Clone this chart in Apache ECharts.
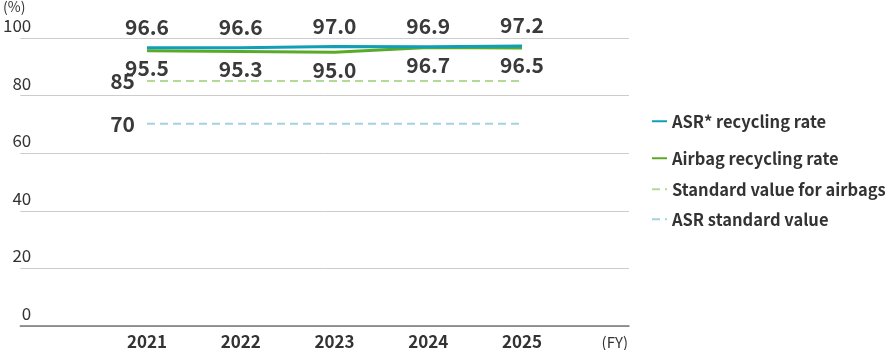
<!DOCTYPE html>
<html><head><meta charset="utf-8">
<script src="https://cdn.jsdelivr.net/npm/echarts@6/dist/echarts.min.js"></script>
<style>html,body{margin:0;padding:0;background:#fff}#c{width:887px;height:350px}</style>
</head><body><div id="c"></div>
<script>
const years = ['2021', '2022', '2023', '2024', '2025'];
const asrRate = [96.6, 96.6, 97.0, 96.9, 97.2];
const airbagRate = [95.5, 95.3, 95.0, 96.7, 96.5];
const airbagStandard = [85, 85, 85, 85, 85];
const asrStandard = [70, 70, 70, 70, 70];
const yTicks = [0, 20, 40, 60, 80, 100];

const FONT = '"Noto Sans CJK JP", "Noto Sans", sans-serif';
const chart = echarts.init(document.getElementById('c'), null, {renderer: 'canvas'});

function firstOnlyLabel(arr) {
  return arr.map((v, i) => i === 0 ? v : {value: v, label: {show: false}});
}

const legendBase = {
  orient: 'vertical', left: 646, itemWidth: 15, itemHeight: 10, itemGap: 0,
  itemStyle: {opacity: 0},
  textStyle: {fontFamily: FONT, fontSize: 16.5, color: '#333', fontWeight: 'bold'}
};

const valLabel = {fontFamily: FONT, fontSize: 21, color: '#3a3a3a', fontWeight: 'bold'};

chart.setOption({
  animation: false,
  grid: [
    {left: 3, right: 258, top: 38, bottom: 24},
    {left: 147, right: 365, top: 38, bottom: 24}
  ],
  graphic: [
    {type: 'text', left: 3, top: 0,
     style: {text: '(%)', fontFamily: FONT, fontSize: 14, fill: '#333'}}
  ],
  legend: [
    Object.assign({}, legendBase, {top: 108, data: ['ASR* recycling rate']}),
    Object.assign({}, legendBase, {top: 145, data: ['Airbag recycling rate']}),
    Object.assign({}, legendBase, {top: 176, data: ['Standard value for airbags']}),
    Object.assign({}, legendBase, {top: 206, data: ['ASR standard value']})
  ],
  xAxis: [
    {gridIndex: 0, type: 'value', min: 0, max: 1,
     axisLine: {show: true, lineStyle: {color: '#777', width: 1.5}},
     axisTick: {show: false}, axisLabel: {show: false}, splitLine: {show: false},
     name: '(FY)', nameLocation: 'end', nameGap: -1, nameMoveOverlap: false,
     nameTextStyle: {fontFamily: FONT, fontSize: 15, color: '#333', align: 'right', verticalAlign: 'top', padding: [9, 0, 0, 0]}},
    {gridIndex: 1, type: 'category', boundaryGap: false, data: years,
     axisLine: {show: false}, axisTick: {show: false},
     axisLabel: {fontFamily: FONT, fontSize: 17, fontWeight: 'bold', color: '#333', margin: 9}}
  ],
  yAxis: [
    {gridIndex: 0, type: 'value', min: 0, max: 100, interval: 20,
     axisLine: {show: false}, axisTick: {show: false},
     splitLine: {lineStyle: {color: '#ccc', width: 1}},
     axisLabel: {inside: true, margin: 14, align: 'right', verticalAlign: 'bottom',
       padding: [0, 3, 4, 0], fontFamily: FONT, fontSize: 17, color: '#333',
       formatter: v => yTicks.includes(v) ? String(v) : ''}},
    {gridIndex: 1, type: 'value', min: 0, max: 100, show: false,
     splitLine: {show: false}}
  ],
  series: [
    {name: 'ASR standard value', type: 'line', xAxisIndex: 1, yAxisIndex: 1,
     data: firstOnlyLabel(asrStandard), symbol: 'circle', symbolSize: 0, z: 2,
     lineStyle: {color: '#a3d3de', width: 2, type: [8, 5]}, itemStyle: {color: '#a3d3de'},
     label: Object.assign({show: true, position: 'left', distance: 12}, valLabel)},
    {name: 'Standard value for airbags', type: 'line', xAxisIndex: 1, yAxisIndex: 1,
     data: firstOnlyLabel(airbagStandard), symbol: 'circle', symbolSize: 0, z: 2,
     lineStyle: {color: '#b3d996', width: 2, type: [8, 5]}, itemStyle: {color: '#b3d996'},
     label: Object.assign({show: true, position: 'left', distance: 12}, valLabel)},
    {name: 'Airbag recycling rate', type: 'line', xAxisIndex: 1, yAxisIndex: 1,
     data: airbagRate, symbol: 'circle', symbolSize: 0, z: 3,
     lineStyle: {color: '#5aaa28', width: 3}, itemStyle: {color: '#5aaa28'},
     label: Object.assign({show: true, position: 'bottom', distance: 7,
       formatter: p => p.value.toFixed(1)}, valLabel)},
    {name: 'ASR* recycling rate', type: 'line', xAxisIndex: 1, yAxisIndex: 1,
     data: asrRate, symbol: 'circle', symbolSize: 0, z: 4,
     lineStyle: {color: '#109fb5', width: 3}, itemStyle: {color: '#2aa3c8'},
     label: Object.assign({show: true, position: 'top', distance: 10,
       formatter: p => p.value.toFixed(1)}, valLabel)}
  ]
});
</script></body></html>
